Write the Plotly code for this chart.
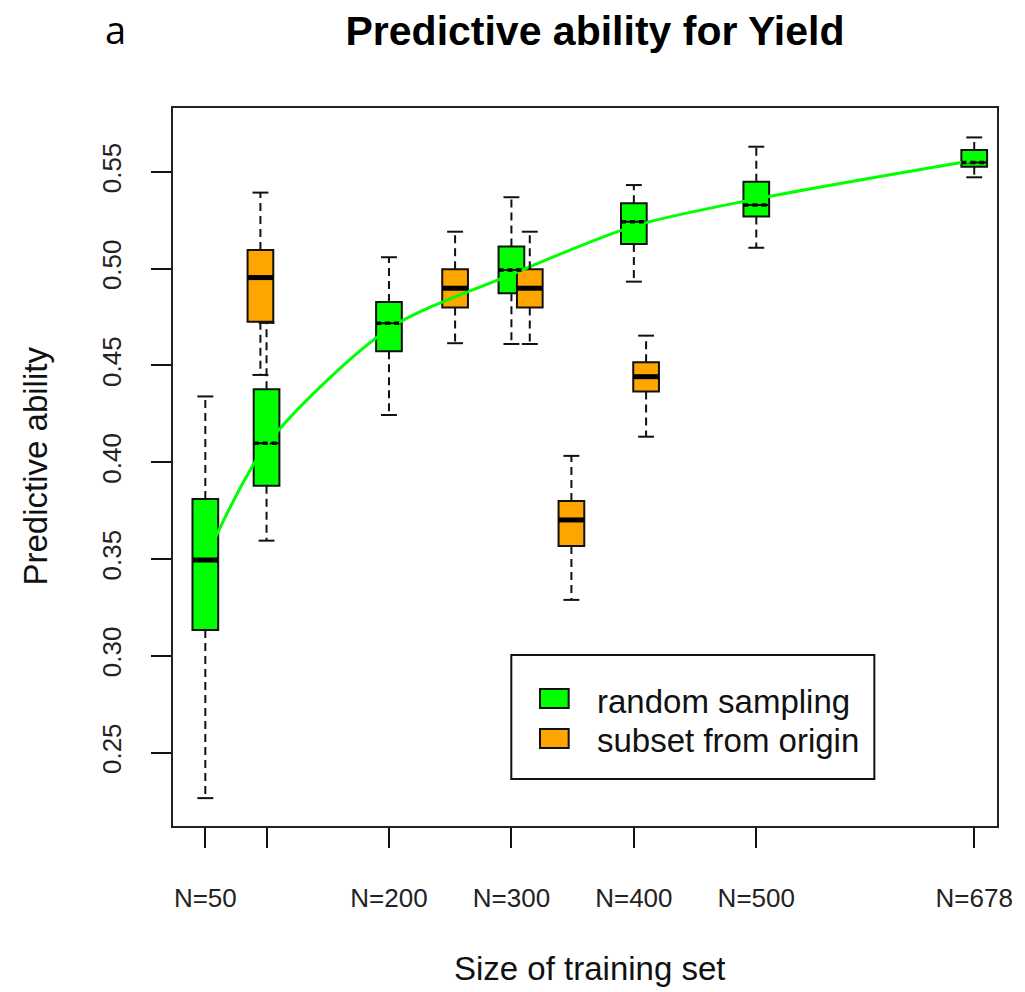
import plotly.graph_objects as go

# ---------------- data ----------------
green_n = [50, 100, 200, 300, 400, 500, 678]
green_lower = [0.2265, 0.3595, 0.4244, 0.4611, 0.4933, 0.5108, 0.5472]
green_q1 = [0.3134, 0.3878, 0.4573, 0.4873, 0.5128, 0.5269, 0.5527]
green_median = [0.3495, 0.4098, 0.4718, 0.4993, 0.5243, 0.5329, 0.5548]
green_q3 = [0.3810, 0.4377, 0.4828, 0.5114, 0.5338, 0.5449, 0.5613]
green_upper = [0.4340, 0.4720, 0.5059, 0.5369, 0.5432, 0.5630, 0.5678]
green_curve = [0.350, 0.409, 0.469, 0.497, 0.522, 0.536, 0.556]

orange_n = [95, 254, 315, 349, 410]
orange_lower = [0.4451, 0.4615, 0.4611, 0.3289, 0.4132]
orange_q1 = [0.4726, 0.4799, 0.4799, 0.3568, 0.4365]
orange_median = [0.4954, 0.4899, 0.4899, 0.3702, 0.4442]
orange_q3 = [0.5097, 0.4997, 0.4997, 0.3800, 0.4517]
orange_upper = [0.5393, 0.5191, 0.5191, 0.4033, 0.4654]

x_tickvals = [50, 100, 200, 300, 400, 500, 678]
x_ticktext = ["N=50", "", "N=200", "N=300", "N=400", "N=500", "N=678"]
y_tickvals = [0.25, 0.30, 0.35, 0.40, 0.45, 0.50, 0.55]
y_ticktext = ["0.25", "0.30", "0.35", "0.40", "0.45", "0.50", "0.55"]

series_names = ["random sampling", "subset from origin"]

# ---------------- style ----------------
GREEN = "#00FF00"
ORANGE = "#FFA500"
FONT = "Liberation Sans, Arial, sans-serif"
BOX_W = 21      # box width in x-units
CAP_HW = 6.5    # half width of whisker caps in x-units
LW = 2

W, H = 1025, 992
ML, MR, MT, MB = 173, 19, 108, 166
PW, PH = W - ML - MR, H - MT - MB


def px(x):
    return (x - ML) / PW


def py(y):
    return (H - MB - y) / PH


fig = go.Figure()

# fitted curve (under boxes)
fig.add_trace(go.Scatter(x=green_n, y=green_curve, mode="lines",
                         line=dict(color=GREEN, width=3, shape="spline", smoothing=0.8),
                         showlegend=False, hoverinfo="skip"))


def add_group(xs, lo, q1, med, q3, hi, fill, name, dashed_median_from=None):
    # dashed whiskers
    wx, wy = [], []
    for x, a, b, c, d in zip(xs, lo, q1, q3, hi):
        wx += [x, x, None, x, x, None]
        wy += [c, d, None, b, a, None]
    fig.add_trace(go.Scatter(x=wx, y=wy, mode="lines",
                             line=dict(color="#111", width=LW, dash="8px,5px"),
                             showlegend=False, hoverinfo="skip"))
    # caps
    cx, cy = [], []
    for x, a, d in zip(xs, lo, hi):
        cx += [x - CAP_HW, x + CAP_HW, None, x - CAP_HW, x + CAP_HW, None]
        cy += [d, d, None, a, a, None]
    fig.add_trace(go.Scatter(x=cx, y=cy, mode="lines",
                             line=dict(color="#111", width=LW),
                             showlegend=False, hoverinfo="skip"))
    # box bodies
    fig.add_trace(go.Box(x=xs, q1=q1, median=med, q3=q3, lowerfence=q1, upperfence=q3,
                         width=BOX_W, whiskerwidth=0, fillcolor=fill,
                         line=dict(color="#111", width=LW), name=name,
                         showlegend=False, hoverinfo="skip"))
    # thick medians
    mx, my, dx, dy = [], [], [], []
    for i, (x, m) in enumerate(zip(xs, med)):
        if dashed_median_from is not None and i >= dashed_median_from:
            dx += [x - BOX_W / 2, x + BOX_W / 2, None]
            dy += [m, m, None]
        else:
            mx += [x - BOX_W / 2, x + BOX_W / 2, None]
            my += [m, m, None]
    if mx:
        fig.add_trace(go.Scatter(x=mx, y=my, mode="lines",
                                 line=dict(color="black", width=5),
                                 showlegend=False, hoverinfo="skip"))
    if dx:
        fig.add_trace(go.Scatter(x=dx, y=dy, mode="lines",
                                 line=dict(color="black", width=3.5, dash="5px,4px"),
                                 showlegend=False, hoverinfo="skip"))


add_group(green_n, green_lower, green_q1, green_median, green_q3, green_upper,
          GREEN, series_names[0], dashed_median_from=1)
add_group(orange_n, orange_lower, orange_q1, orange_median, orange_q3, orange_upper,
          ORANGE, series_names[1])

# ---------------- legend (drawn) ----------------
shapes = [
    dict(type="rect", xref="paper", yref="paper", x0=px(515), x1=px(882), y0=py(779), y1=py(655),
         line=dict(color="#111", width=LW), fillcolor="white", layer="above"),
    dict(type="rect", xref="paper", yref="paper", x0=px(544), x1=px(573), y0=py(708), y1=py(689),
         line=dict(color="#111", width=LW), fillcolor=GREEN, layer="above"),
    dict(type="rect", xref="paper", yref="paper", x0=px(544), x1=px(573), y0=py(748), y1=py(729),
         line=dict(color="#111", width=LW), fillcolor=ORANGE, layer="above"),
]
annotations = [
    dict(text=series_names[0], xref="paper", yref="paper", x=px(600), y=py(701), xanchor="left",
         yanchor="middle", showarrow=False, font=dict(family=FONT, size=33, color="#111")),
    dict(text=series_names[1], xref="paper", yref="paper", x=px(600), y=py(740), xanchor="left",
         yanchor="middle", showarrow=False, font=dict(family=FONT, size=33, color="#111")),
    dict(text="Predictive ability", xref="paper", yref="paper", x=px(33), y=py(466),
         xanchor="center", yanchor="middle", textangle=-90, showarrow=False,
         font=dict(family=FONT, size=33, color="#111")),
    dict(text="Size of training set", xref="paper", yref="paper", x=px(594), y=py(968),
         xanchor="center", yanchor="middle", showarrow=False,
         font=dict(family=FONT, size=33, color="#111")),
    dict(text="a", xref="paper", yref="paper", x=px(115), y=py(1),
         xanchor="center", yanchor="top", showarrow=False,
         font=dict(family="Open Sans, sans-serif", size=38, color="black")),
]

fig.update_layout(
    width=W, height=H,
    margin=dict(l=ML, r=MR, t=MT, b=MB, pad=0),
    paper_bgcolor="white", plot_bgcolor="white",
    showlegend=False,
    boxmode="overlay",
    title=dict(text="<b>Predictive ability for Yield</b>", xref="container", yref="container",
               x=595 / W, y=1 - 31 / H, xanchor="center", yanchor="middle",
               font=dict(family=FONT, size=41, color="black")),
    xaxis=dict(range=[23.6, 696.6], tickmode="array", tickvals=x_tickvals, ticktext=x_ticktext,
               ticks="outside", ticklen=20, tickwidth=LW, tickcolor="#111",
               showline=True, linecolor="#222", linewidth=2, mirror=True,
               showgrid=False, zeroline=False, ticklabelstandoff=28,
               tickfont=dict(family=FONT, size=26, color="#222")),
    yaxis=dict(range=[0.2121, 0.583], tickmode="array", tickvals=y_tickvals, ticktext=y_ticktext,
               ticks="outside", ticklen=20, tickwidth=LW, tickcolor="#111", tickangle=-90,
               showline=True, linecolor="#222", linewidth=2, mirror=True,
               showgrid=False, zeroline=False, ticklabelstandoff=20,
               tickfont=dict(family=FONT, size=26, color="#222")),
    shapes=shapes,
    annotations=annotations,
)

fig.write_html("out.html")
